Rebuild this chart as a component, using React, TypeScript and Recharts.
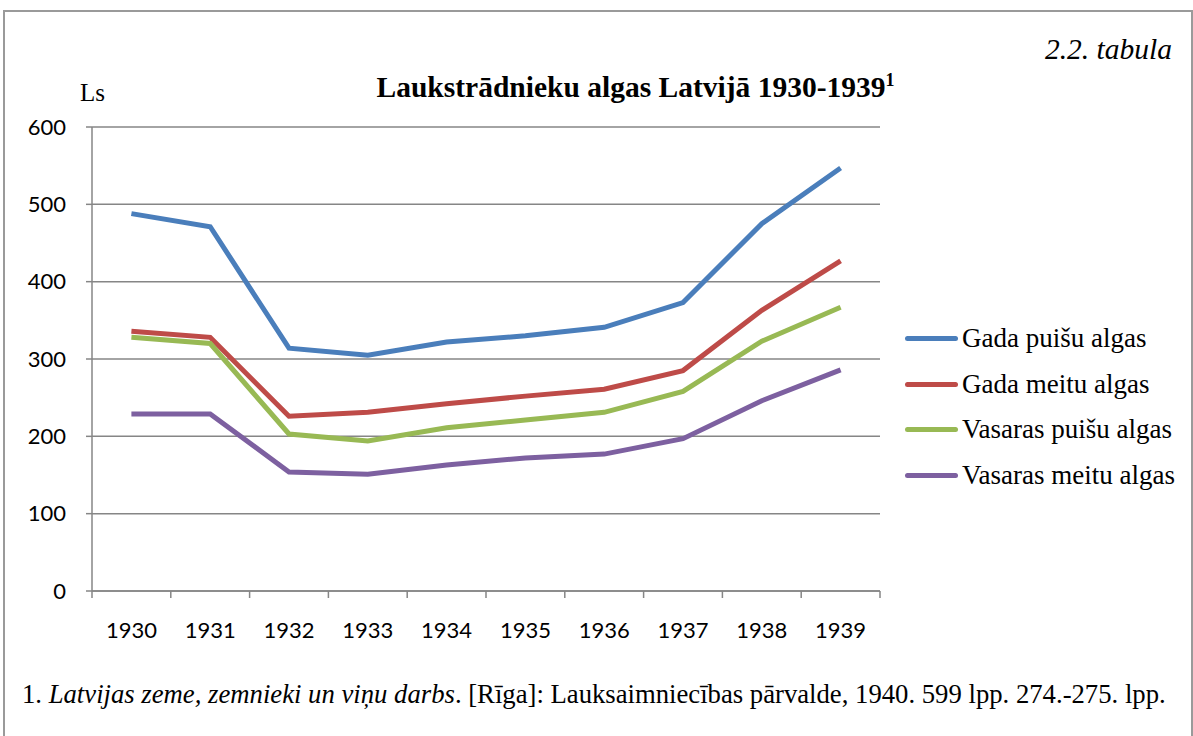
import { LineChart, Line, XAxis, YAxis, CartesianGrid } from 'recharts';

const years = ['1930', '1931', '1932', '1933', '1934', '1935', '1936', '1937', '1938', '1939'];
const gadaPuisu = [488, 471, 314, 305, 322, 330, 341, 373, 475, 547];
const gadaMeitu = [336, 328, 226, 231, 242, 252, 261, 285, 363, 427];
const vasarasPuisu = [328, 320, 203, 194, 211, 221, 231, 258, 323, 367];
const vasarasMeitu = [229, 229, 154, 151, 163, 172, 177, 197, 246, 286];
const yTicks = [0, 100, 200, 300, 400, 500, 600];

const series = [
  { key: 'gp', name: 'Gada puišu algas', values: gadaPuisu, color: '#4A7EBB' },
  { key: 'gm', name: 'Gada meitu algas', values: gadaMeitu, color: '#BE4B48' },
  { key: 'vp', name: 'Vasaras puišu algas', values: vasarasPuisu, color: '#98B954' },
  { key: 'vm', name: 'Vasaras meitu algas', values: vasarasMeitu, color: '#7D60A0' },
];

const data = years.map((year, i) => {
  const row: Record<string, string | number> = { year };
  series.forEach((s) => {
    row[s.key] = s.values[i];
  });
  return row;
});

const W = 1193;
const H = 736;
const PLOT_W = 788;
const HALF = PLOT_W / years.length / 2;
const AXIS = '#868686';
const SERIF = '"Liberation Serif", "Times New Roman", serif';
const SANS = 'Lato, "Liberation Sans", sans-serif';

function YearTick(props: any) {
  const { x, y, payload, index } = props;
  const last = index === years.length - 1;
  return (
    <g>
      <line x1={x - HALF} y1={y} x2={x - HALF} y2={y + 7} stroke={AXIS} strokeWidth={1.5} />
      {last && <line x1={x + HALF} y1={y} x2={x + HALF} y2={y + 7} stroke={AXIS} strokeWidth={1.5} />}
      <text x={x} y={y + 41} textAnchor="middle" dominantBaseline="middle" fontFamily={SANS} fontSize={22} fill="#000">
        {payload.value}
      </text>
    </g>
  );
}

export default function App() {
  return (
    <div style={{ position: 'absolute', left: 0, top: 0, width: W, height: H, background: '#fff', overflow: 'hidden' }}>
      <div
        style={{
          position: 'absolute',
          left: 3,
          top: 10,
          width: 1186,
          height: 760,
          border: '2px solid #9a9a9a',
        }}
      />
      <div style={{ position: 'absolute', right: 21, top: 35, lineHeight: 1, fontFamily: SERIF, fontSize: 29.5, fontStyle: 'italic' }}>
        2.2. tabula
      </div>
      <div style={{ position: 'absolute', left: 80, top: 80, lineHeight: 1, fontFamily: SERIF, fontSize: 25 }}>Ls</div>
      <div
        style={{
          position: 'absolute',
          left: 0,
          width: 1271,
          top: 73,
          lineHeight: 1,
          textAlign: 'center',
          fontFamily: SERIF,
          fontSize: 29.5,
          fontWeight: 'bold',
        }}
      >
        Laukstrādnieku algas Latvijā 1930-1939<sup style={{ fontSize: 18, lineHeight: 0 }}>1</sup>
      </div>

      <div style={{ position: 'absolute', left: 0, top: 0 }}>
        <LineChart width={W} height={H} data={data} margin={{ top: 127, right: 313, bottom: 85, left: 32 }}>
          <CartesianGrid vertical={false} stroke={AXIS} strokeWidth={1.5} />
          <XAxis
            dataKey="year"
            height={60}
            padding={{ left: HALF, right: HALF }}
            axisLine={{ stroke: AXIS, strokeWidth: 1.5 }}
            tickLine={false}
            tickSize={0}
            tickMargin={0}
            tick={<YearTick />}
            interval={0}
          />
          <YAxis
            width={60}
            domain={[0, 600]}
            ticks={yTicks}
            interval={0}
            axisLine={{ stroke: AXIS, strokeWidth: 1.5 }}
            tickLine={{ stroke: AXIS, strokeWidth: 1.5 }}
            tickSize={6}
            tickMargin={20}
            tick={{ fontFamily: SANS, fontSize: 22, fill: '#000' }}
          />
          {series.map((s) => (
            <Line
              key={s.key}
              dataKey={s.key}
              name={s.name}
              stroke={s.color}
              strokeWidth={5}
              dot={false}
              isAnimationActive={false}
            />
          ))}
        </LineChart>
      </div>

      <div style={{ position: 'absolute', left: 905, top: 316 }}>
        {series.map((s) => (
          <div key={s.key} style={{ display: 'flex', alignItems: 'center', height: 45.5 }}>
            <div style={{ width: 53, height: 5, borderRadius: 2.5, background: s.color, marginRight: 4 }} />
            <span style={{ fontFamily: SERIF, fontSize: 27, lineHeight: 1 }}>{s.name}</span>
          </div>
        ))}
      </div>

      <div style={{ position: 'absolute', left: 22, top: 681, lineHeight: 1, fontFamily: SERIF, fontSize: 26.7, whiteSpace: 'nowrap' }}>
        1. <i>Latvijas zeme, zemnieki un viņu darbs</i>. [Rīga]: Lauksaimniecības pārvalde, 1940. 599 lpp. 274.-275. lpp.
      </div>
    </div>
  );
}
